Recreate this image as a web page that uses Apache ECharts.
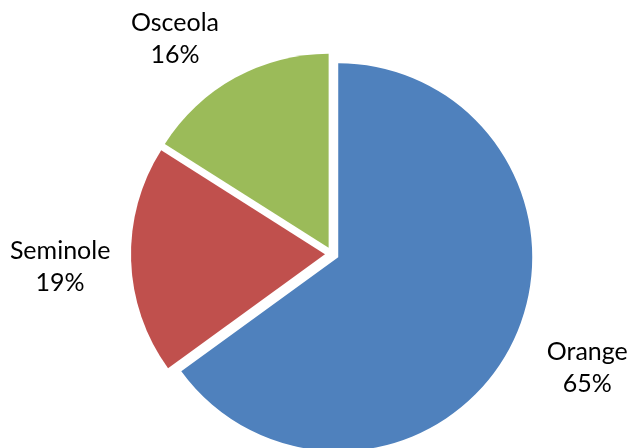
<!DOCTYPE html>
<html>
<head>
<meta charset="utf-8">
<script src="https://cdn.jsdelivr.net/npm/echarts@6/dist/echarts.min.js"></script>
<style>
html,body{margin:0;padding:0;background:#fff;}
#chart{width:631px;height:448px;}
</style>
</head>
<body>
<div id="chart"></div>
<script>
const categories = ['Orange', 'Seminole', 'Osceola'];
const values = [65, 19, 16];
const colors = ['#4F81BD', '#C0504D', '#9BBB59'];

// label nudges (layout only)
const labelShift = [[32, 3], [-22, 5], [-34, 0]];

const chart = echarts.init(document.getElementById('chart'), null, {renderer: 'canvas'});
const data = categories.map((c, i) => ({
  name: c,
  value: values[i],
  selected: true,
  itemStyle: {color: colors[i]}
}));

chart.setOption({
  animation: false,
  series: [{
    type: 'pie',
    center: [332, 254],
    radius: 194,
    startAngle: 90,
    clockwise: true,
    selectedMode: 'multiple',
    selectedOffset: 7,
    avoidLabelOverlap: false,
    percentPrecision: 0,
    emphasis: {disabled: true},
    itemStyle: {borderWidth: 0},
    labelLine: {show: false, length: 44, length2: 0},
    label: {
      show: true,
      position: 'outside',
      formatter: '{b}\n{d}%',
      fontFamily: 'Lato',
      fontSize: 25,
      lineHeight: 32,
      color: '#000'
    },
    labelLayout: function (p) {
      const s = labelShift[p.dataIndex];
      return {
        dx: s[0],
        dy: s[1],
        align: 'center',
        verticalAlign: 'middle'
      };
    },
    data: data
  }]
});
</script>
</body>
</html>
